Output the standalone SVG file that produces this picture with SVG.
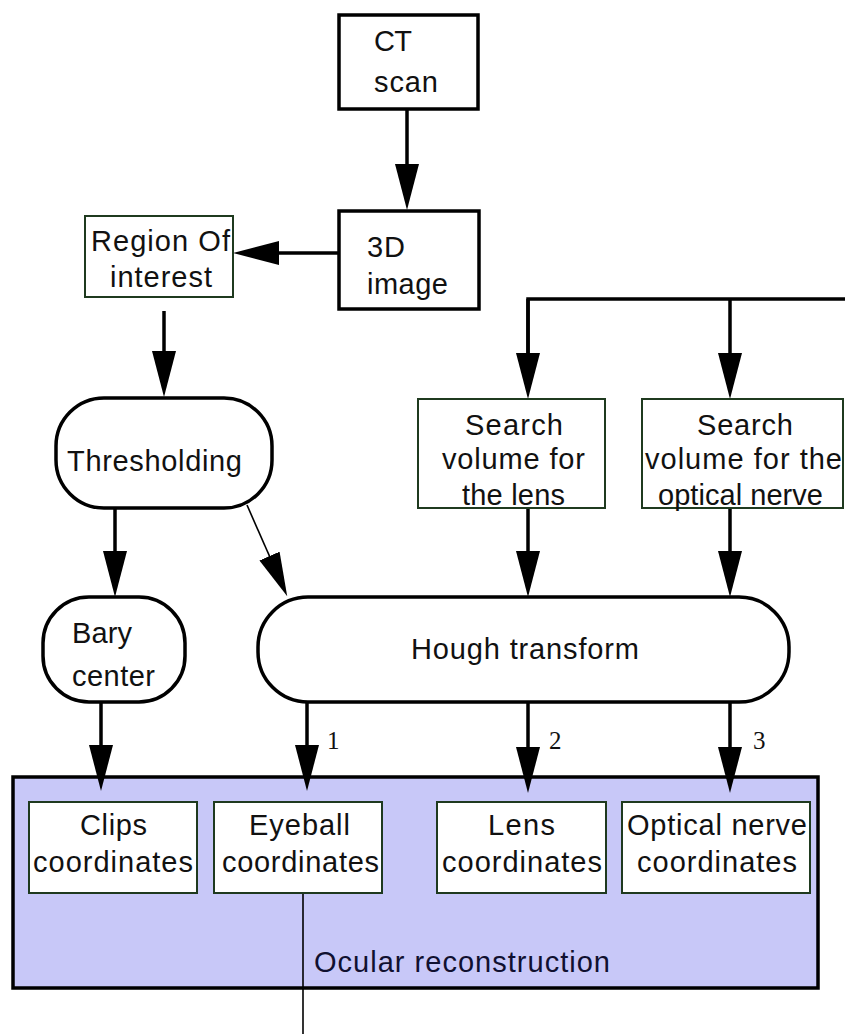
<svg xmlns="http://www.w3.org/2000/svg" width="845" height="1034" viewBox="0 0 845 1034">
<style>
  .t { font-family: "Liberation Sans", Arial, sans-serif; font-size: 29px; fill: #111; }
  .num { font-family: "Liberation Serif", "Times New Roman", serif; font-size: 25px; fill: #111; }
  .blk { fill: #fff; stroke: #000; stroke-width: 3.5; }
  .grn { fill: #fff; stroke: #1f3a1f; stroke-width: 2; }
  .c { fill: none; stroke: #000; stroke-width: 3.5; }
  .thin { fill: none; stroke: #000; stroke-width: 1.6; }
</style>
<defs>
  <marker id="ah" markerUnits="userSpaceOnUse" markerWidth="46" markerHeight="24" refX="36" refY="12" orient="auto" viewBox="0 0 46 24">
    <path d="M0,0 L46,12 L0,24 z" fill="#000"/>
  </marker>
  <marker id="ahs" markerUnits="userSpaceOnUse" markerWidth="44" markerHeight="22" refX="36" refY="11" orient="auto" viewBox="0 0 44 22">
    <path d="M0,0 L44,11 L0,22 z" fill="#000"/>
  </marker>
</defs>
<rect width="845" height="1034" fill="#fff"/>

<g id="ocular">
  <rect x="13" y="777" width="805" height="211" fill="#c8c8f8" stroke="#000" stroke-width="3.5"/>
  <text class="t" x="314" y="972" textLength="296" lengthAdjust="spacing" style="fill:#101030">Ocular reconstruction</text>
</g>

<g id="connectors">
  <line class="c" x1="407" y1="109" x2="407" y2="200" marker-end="url(#ah)"/>
  <line class="c" x1="339" y1="253" x2="243" y2="253" marker-end="url(#ah)"/>
  <line class="c" x1="164" y1="311" x2="164" y2="387" marker-end="url(#ah)"/>
  <line class="c" x1="115" y1="508" x2="115" y2="587" marker-end="url(#ah)"/>
  <line class="thin" x1="247" y1="505" x2="284" y2="589" marker-end="url(#ahs)"/>
  <polyline class="c" points="528,389 528,299 845,299"/>
  <line class="c" x1="528" y1="299" x2="528" y2="389" marker-end="url(#ah)"/>
  <line class="c" x1="730" y1="299" x2="730" y2="389" marker-end="url(#ah)"/>
  <line class="c" x1="528" y1="508" x2="528" y2="587" marker-end="url(#ah)"/>
  <line class="c" x1="730" y1="508" x2="730" y2="587" marker-end="url(#ah)"/>
  <line class="c" x1="101" y1="702" x2="101" y2="781" marker-end="url(#ah)"/>
  <line class="c" x1="307" y1="702" x2="307" y2="781" marker-end="url(#ah)"/>
  <line class="c" x1="528" y1="702" x2="528" y2="783" marker-end="url(#ah)"/>
  <line class="c" x1="730" y1="702" x2="730" y2="783" marker-end="url(#ah)"/>
  <line class="thin" x1="303" y1="893" x2="303" y2="1034"/>
  <text class="num" x="327" y="749">1</text>
  <text class="num" x="549" y="749">2</text>
  <text class="num" x="753" y="749">3</text>
</g>

<g id="ct-scan">
  <rect class="blk" x="339" y="15" width="139" height="94"/>
  <text class="t" x="374" y="51" textLength="38" lengthAdjust="spacing">CT</text>
  <text class="t" x="374" y="92" textLength="64" lengthAdjust="spacing">scan</text>
</g>

<g id="image3d">
  <rect class="blk" x="339" y="211" width="140" height="98"/>
  <text class="t" x="367" y="257" textLength="38" lengthAdjust="spacing">3D</text>
  <text class="t" x="367" y="294" textLength="81" lengthAdjust="spacing">image</text>
</g>

<g id="roi">
  <rect class="grn" x="85" y="216" width="148" height="81"/>
  <text class="t" x="91" y="251" textLength="139" lengthAdjust="spacing">Region Of</text>
  <text class="t" x="110" y="287" textLength="102" lengthAdjust="spacing">interest</text>
</g>

<g id="thresholding">
  <rect class="blk" x="56" y="398" width="216" height="110" rx="48" ry="48"/>
  <text class="t" x="67" y="471" textLength="175" lengthAdjust="spacing">Thresholding</text>
</g>

<g id="barycenter">
  <rect class="blk" x="43" y="597" width="142" height="105" rx="46" ry="46"/>
  <text class="t" x="72" y="643" textLength="60" lengthAdjust="spacing">Bary</text>
  <text class="t" x="72" y="686" textLength="83" lengthAdjust="spacing">center</text>
</g>

<g id="search-lens">
  <rect class="grn" x="418" y="399" width="187" height="109"/>
  <text class="t" x="465" y="435" textLength="98" lengthAdjust="spacing">Search</text>
  <text class="t" x="442" y="469" textLength="143" lengthAdjust="spacing">volume for</text>
  <text class="t" x="462" y="505" textLength="103" lengthAdjust="spacing">the lens</text>
</g>

<g id="search-nerve">
  <rect class="grn" x="642" y="399" width="201" height="109"/>
  <text class="t" x="697" y="435" textLength="96" lengthAdjust="spacing">Search</text>
  <text class="t" x="645" y="469" textLength="197" lengthAdjust="spacing">volume for the</text>
  <text class="t" x="658" y="505" textLength="165" lengthAdjust="spacing">optical nerve</text>
</g>

<g id="hough">
  <rect class="blk" x="258" y="597" width="531" height="105" rx="50" ry="50"/>
  <text class="t" x="411" y="659" textLength="228" lengthAdjust="spacing">Hough transform</text>
</g>

<g id="clips">
  <rect class="grn" x="29" y="802" width="168" height="91"/>
  <text class="t" x="80" y="835" textLength="67" lengthAdjust="spacing">Clips</text>
  <text class="t" x="33" y="872" textLength="160" lengthAdjust="spacing">coordinates</text>
</g>

<g id="eyeball">
  <rect class="grn" x="214" y="802" width="168" height="91"/>
  <text class="t" x="249" y="835" textLength="101" lengthAdjust="spacing">Eyeball</text>
  <text class="t" x="222" y="872" textLength="157" lengthAdjust="spacing">coordinates</text>
</g>

<g id="lens">
  <rect class="grn" x="437" y="802" width="169" height="91"/>
  <text class="t" x="488" y="835" textLength="67" lengthAdjust="spacing">Lens</text>
  <text class="t" x="442" y="872" textLength="160" lengthAdjust="spacing">coordinates</text>
</g>

<g id="optical-nerve">
  <rect class="grn" x="622" y="802" width="188" height="91"/>
  <text class="t" x="627" y="835" textLength="180" lengthAdjust="spacing">Optical nerve</text>
  <text class="t" x="637" y="872" textLength="160" lengthAdjust="spacing">coordinates</text>
</g>
</svg>
